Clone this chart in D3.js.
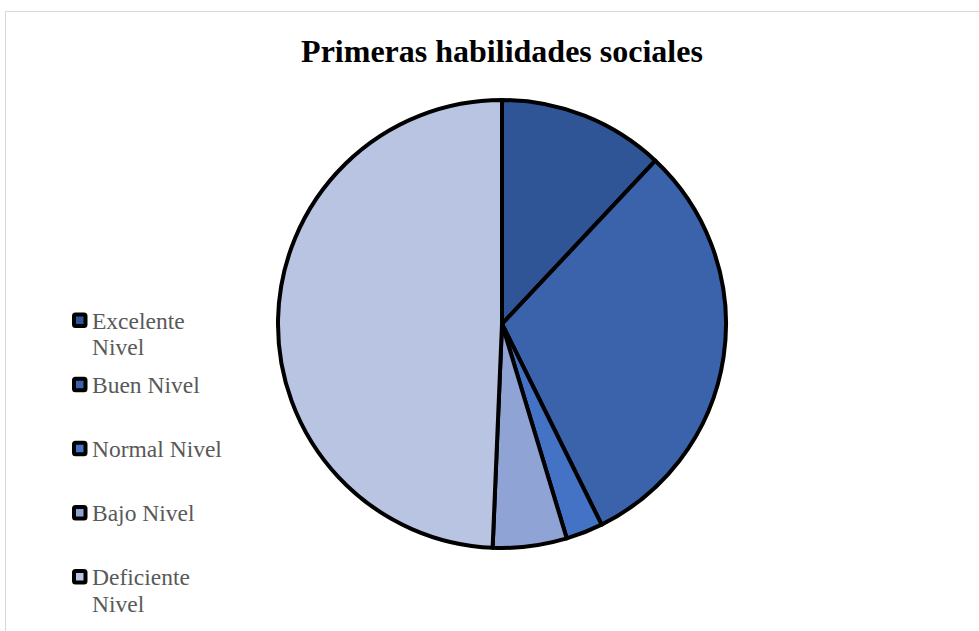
<!DOCTYPE html>
<html><head><meta charset="utf-8">
<script src="https://cdn.jsdelivr.net/npm/d3@7"></script>
<style>html,body{margin:0;padding:0;background:#fff;}svg{display:block;}</style>
</head><body>
<script>
const categories = ["Excelente Nivel", "Buen Nivel", "Normal Nivel", "Bajo Nivel", "Deficiente Nivel"];
const values = [9, 23, 2, 4, 37];
const colors = ["#2F5597", "#3B63AB", "#4472C4", "#8FA3D4", "#B9C3E2"];
const legendLines = [["Excelente", "Nivel"], ["Buen Nivel"], ["Normal Nivel"], ["Bajo Nivel"], ["Deficiente", "Nivel"]];
const title = "Primeras habilidades sociales";

const W = 979, H = 631;
const svg = d3.select("body").append("svg").attr("width", W).attr("height", H);

svg.append("rect").attr("x", 5.5).attr("y", 11.5).attr("width", 1000).attr("height", 700)
  .attr("fill", "#fff").attr("stroke", "#d9d9d9").attr("stroke-width", 1);

svg.append("text").attr("x", 502).attr("y", 62).attr("text-anchor", "middle")
  .attr("font-family", "Liberation Serif, Times New Roman, serif").attr("font-weight", "bold")
  .attr("font-size", 32).attr("fill", "#000").text(title);

const cx = 502, cy = 324, r = 224;
const pie = d3.pie().sort(null).value(d => d)(values);
const arc = d3.arc().innerRadius(0).outerRadius(r);
const g = svg.append("g").attr("transform", `translate(${cx},${cy})`);
g.selectAll("path").data(pie).join("path")
  .attr("d", arc).attr("fill", (d, i) => colors[i])
  .attr("stroke", "#000").attr("stroke-width", 4).attr("stroke-linejoin", "round");

const color = d3.scaleOrdinal().domain(categories).range(colors);
const legY = d3.scalePoint().domain(categories).range([328.5, 585]);
const leg = svg.append("g");
categories.forEach((c, i) => {
  const y = legY(c);
  leg.append("rect").attr("x", 74).attr("y", y - 14).attr("width", 11.5).attr("height", 11.5)
    .attr("fill", color(c)).attr("stroke", "#000").attr("stroke-width", 4).attr("rx", 1.5);
  const t = leg.append("text").attr("x", 92).attr("y", y)
    .attr("font-family", "Liberation Serif, Times New Roman, serif").attr("font-size", 23.5)
    .attr("fill", "#595959");
  legendLines[i].forEach((ln, j) => {
    t.append("tspan").attr("x", 92).attr("dy", j === 0 ? 0 : 26.7).text(ln);
  });
});
</script>
</body></html>
